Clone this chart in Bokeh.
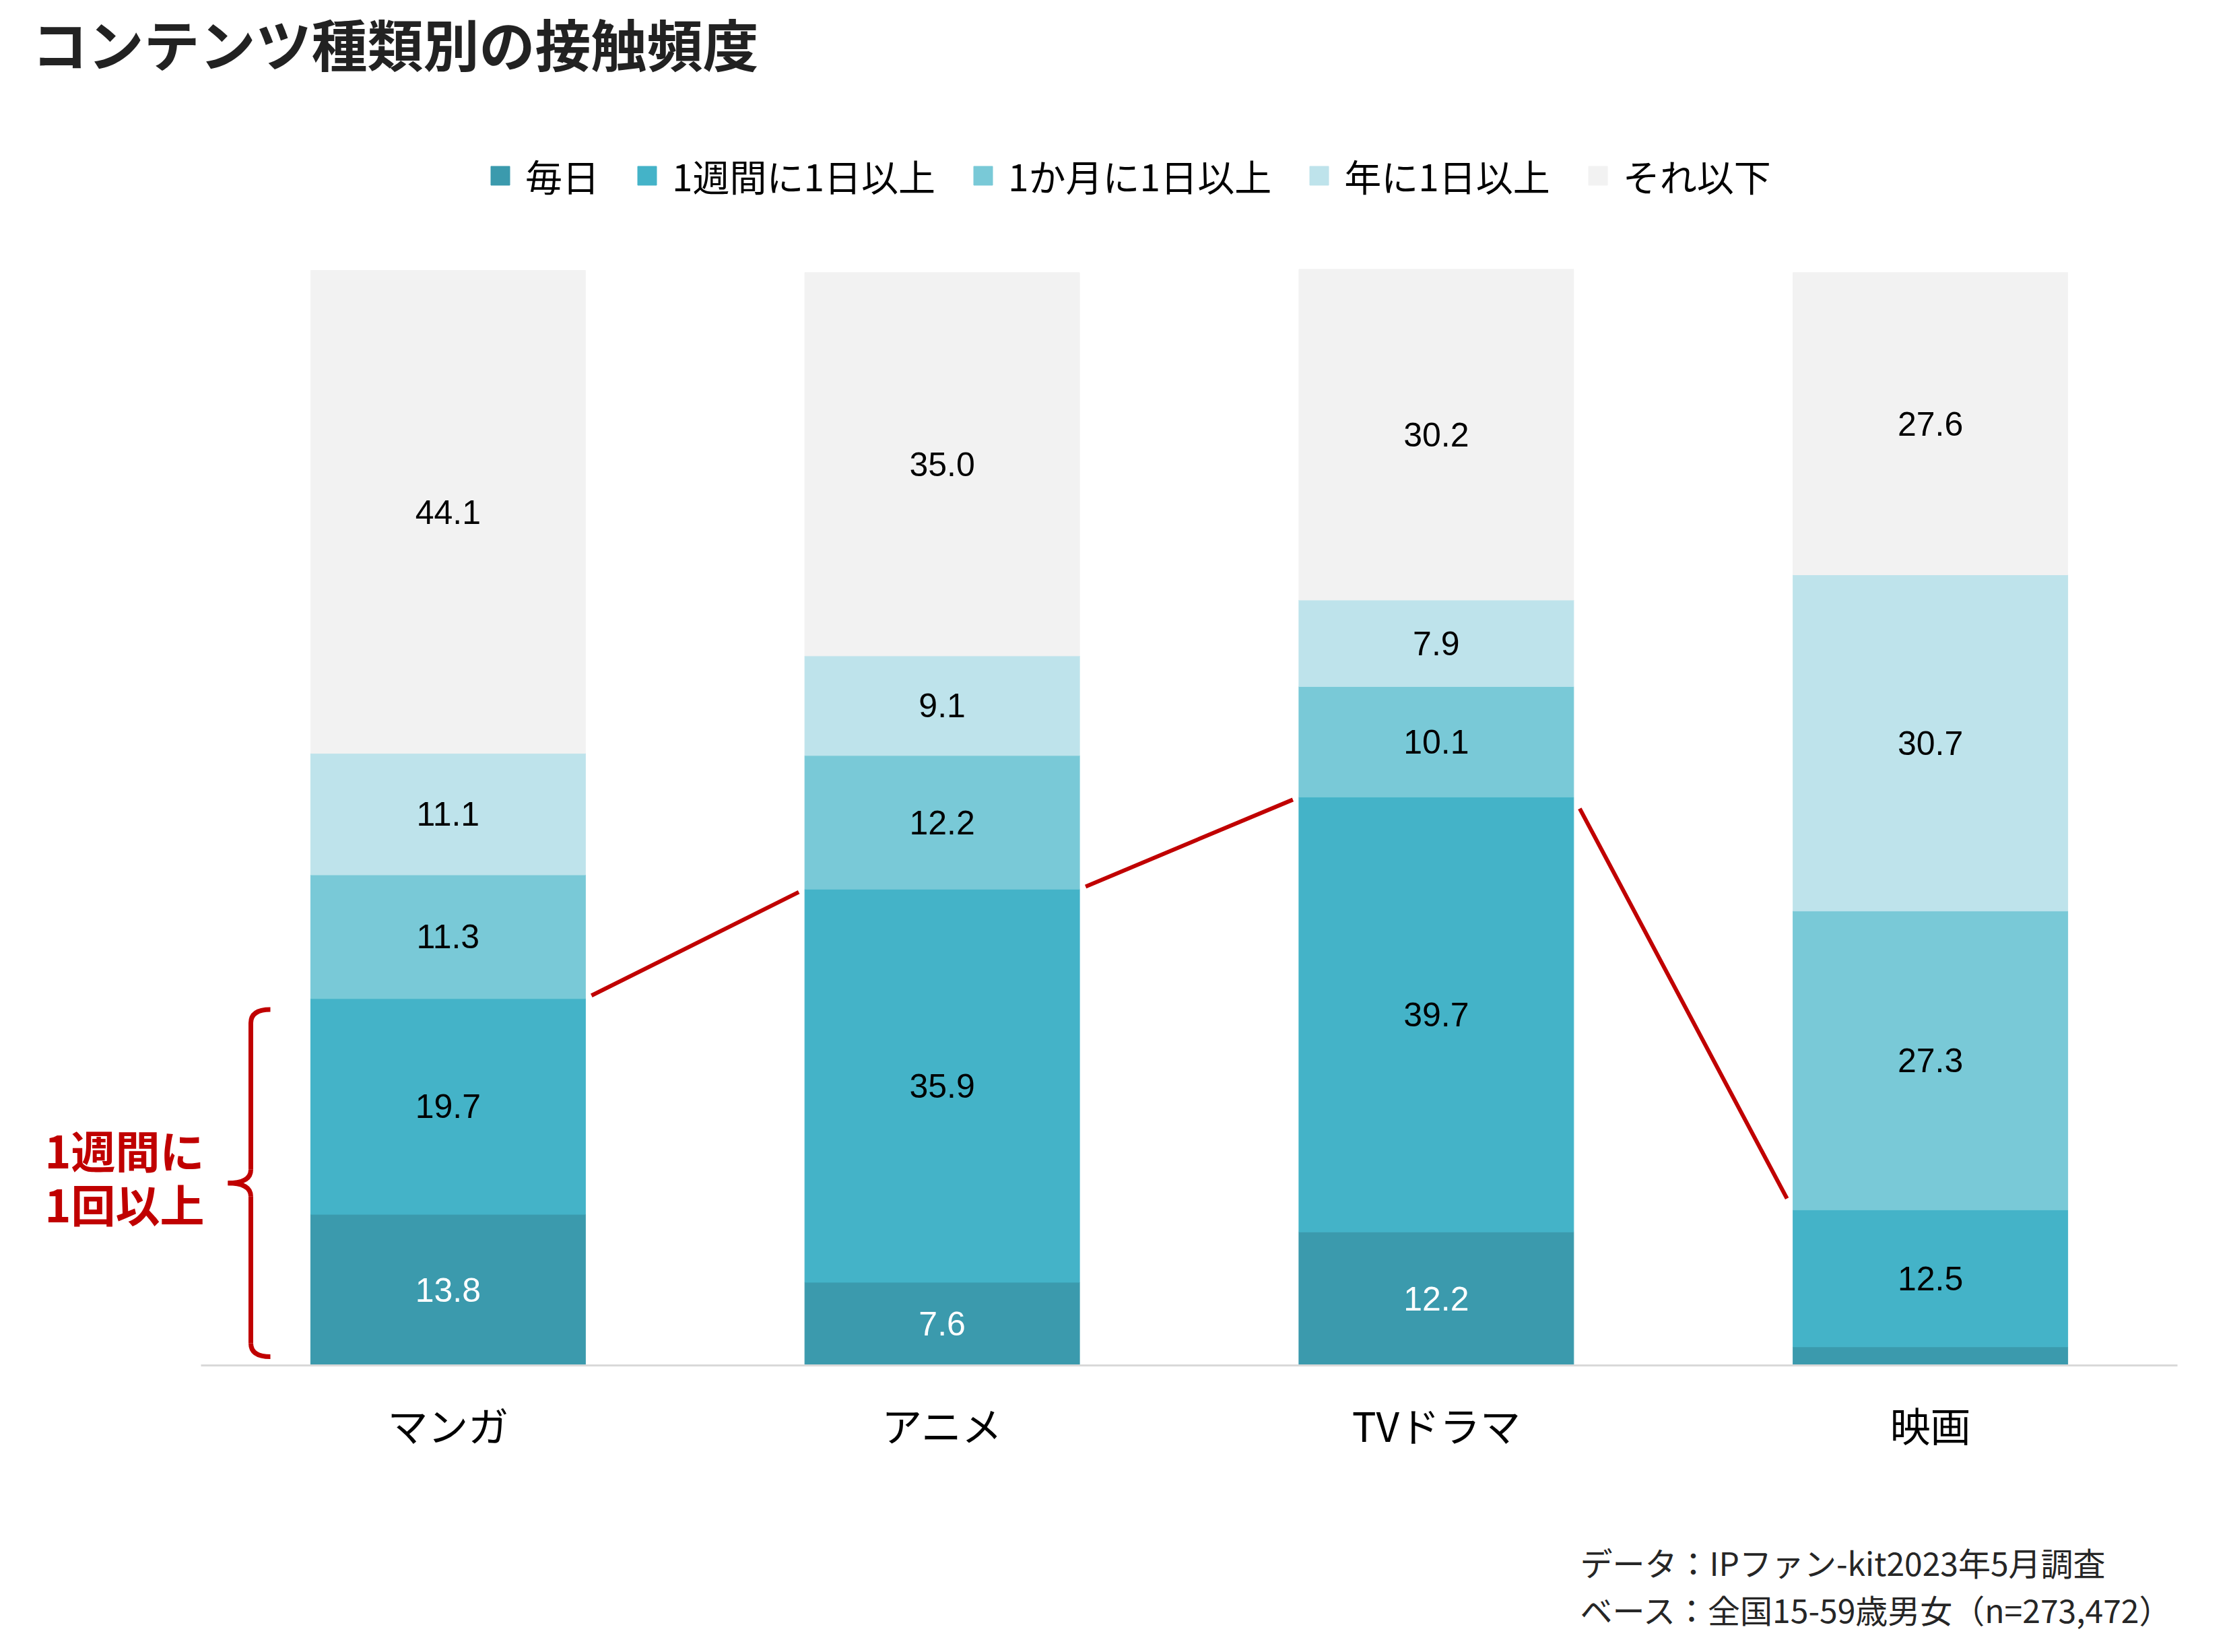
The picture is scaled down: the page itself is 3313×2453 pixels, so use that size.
from bokeh.plotting import figure
from bokeh.layouts import column
from bokeh.models import ColumnDataSource, Range1d, FixedTicker, Legend, LegendItem, Label
from bokeh.core.properties import value
from bokeh.embed import file_html
from bokeh.resources import INLINE

# ---- data -------------------------------------------------------------
categories = ["マンガ", "アニメ", "TVドラマ", "映画"]
series_names = ["毎日", "1週間に1日以上", "1か月に1日以上", "年に1日以上", "それ以下"]
daily = [13.8, 7.6, 12.2, 1.7]
weekly = [19.7, 35.9, 39.7, 12.5]
monthly = [11.3, 12.2, 10.1, 27.3]
yearly = [11.1, 9.1, 7.9, 30.7]
less = [44.1, 35.0, 30.2, 27.6]

title_text = "コンテンツ種類別の接触頻度"
callout_lines = ["1週間に", "1回以上"]
note_lines = ["データ：IPファン-kit2023年5月調査", "ベース：全国15-59歳男女（n=273,472）"]

# ---- styling ----------------------------------------------------------
colors = ["#3B9AAD", "#44B3C8", "#79C9D7", "#BEE3EB", "#F2F2F2"]
label_colors = ["#FFFFFF", "#000000", "#000000", "#000000", "#000000"]
RED = "#C00000"
JP = "Noto Sans CJK JP"
W, H = 3313, 2453
FOOT_H = 193                    # strip under the chart holding the source notes
MAIN_H = H - FOOT_H
AX_L, AX_R = 298, 3233          # where the category axis starts / ends
BASE_Y, TOP_Y = 2027, 401       # pixel rows of 0 % and 100 %
PX_X = (AX_R - AX_L) / 4.0      # pixels per category slot
PX_Y = (BASE_Y - TOP_Y) / 100.0 # pixels per percentage point
BAR_W = 0.556

X0 = -0.5 - AX_L / PX_X
X1 = 3.5 + (W - AX_R) / PX_X
Y1 = BASE_Y / PX_Y


def cx(px):
    """page x pixel -> x data coordinate"""
    return X0 + px / PX_X


def cy(py):
    """page y pixel -> y data coordinate"""
    return (BASE_Y - py) / PX_Y


p = figure(width=W, height=MAIN_H, output_backend="svg", toolbar_location=None,
           x_range=Range1d(X0, X1), y_range=Range1d(0, Y1),
           y_axis_location=None, min_border_left=0, min_border_right=0,
           min_border_top=0, min_border_bottom=MAIN_H - BASE_Y)
p.outline_line_color = None
p.background_fill_color = "white"
p.border_fill_color = "white"
for g in p.xgrid + p.ygrid:
    g.visible = False

# ---- stacked bars -----------------------------------------------------
keys = ["s0", "s1", "s2", "s3", "s4"]
series = [daily, weekly, monthly, yearly, less]
src = ColumnDataSource(dict(x=list(range(len(categories))),
                            **{k: v for k, v in zip(keys, series)}))
bars = p.vbar_stack(keys, x="x", width=BAR_W, color=colors, source=src)

# value labels centred in each segment
lx, ly, lt, lc = [], [], [], []
for i in range(len(categories)):
    base = 0.0
    for s, vals in enumerate(series):
        v = vals[i]
        if v >= 3:
            lx.append(i)
            ly.append(base + v / 2)
            lt.append(f"{v:.1f}")
            lc.append(label_colors[s])
        base += v
p.text(x=lx, y=ly, text=lt, text_color=lc, text_align="center",
       text_baseline="middle", text_font=value("Liberation Sans"),
       text_font_size="50px")

# ---- connectors between "weekly or more" totals -------------------------
wk = [d + w for d, w in zip(daily, weekly)]
gap = 1 - BAR_W
trim = 9 / PX_X
f = trim / gap
x0s, y0s, x1s, y1s = [], [], [], []
for i in range(len(categories) - 1):
    dy = wk[i + 1] - wk[i]
    x0s.append(i + BAR_W / 2 + trim)
    x1s.append(i + 1 - BAR_W / 2 - trim)
    y0s.append(wk[i] + f * dy)
    y1s.append(wk[i + 1] - f * dy)
p.segment(x0=x0s, y0=y0s, x1=x1s, y1=y1s, line_color=RED, line_width=6)

# ---- brace for the first bar ------------------------------------------
bx_end, bx_v, bx_tip = cx(401), cx(372), cx(338)
b_top, b_bot = wk[0] - 1.0, 0.8
b_mid = (b_top + b_bot) / 2
r = 20 / PX_Y
p.quadratic(x0=[bx_end, bx_v, bx_tip, bx_v],
            y0=[b_top, b_mid + r, b_mid, b_bot + r],
            x1=[bx_v, bx_tip, bx_v, bx_end],
            y1=[b_top - r, b_mid, b_mid - r, b_bot],
            cx=[bx_v, bx_v, bx_v, bx_v],
            cy=[b_top, b_mid, b_mid, b_bot],
            line_color=RED, line_width=7)
p.segment(x0=[bx_v, bx_v], y0=[b_top - r, b_mid - r],
          x1=[bx_v, bx_v], y1=[b_mid + r, b_bot + r],
          line_color=RED, line_width=7)

# ---- axis ---------------------------------------------------------------
ax = p.xaxis[0]
ax.bounds = (-0.5, 3.5)
ax.ticker = FixedTicker(ticks=list(range(len(categories))))
ax.major_label_overrides = {i: c for i, c in enumerate(categories)}
ax.major_label_text_font = JP
ax.major_label_text_font_size = "60px"
ax.major_label_text_color = "#000000"
ax.major_label_standoff = 37
ax.major_tick_line_color = None
ax.minor_tick_line_color = None
ax.axis_line_color = "#D9D9D9"
ax.axis_line_width = 3

# ---- legend -------------------------------------------------------------
legend = Legend(items=[LegendItem(label=n, renderers=[r]) for n, r in zip(series_names, bars)],
                orientation="horizontal", location=(725, BASE_Y - 300),
                glyph_width=35, glyph_height=35, label_standoff=20, spacing=53,
                padding=0, margin=0, border_line_color=None, background_fill_alpha=0,
                label_text_font=JP, label_text_font_size="55px", label_text_color="#000000")
p.add_layout(legend, "center")

# ---- texts --------------------------------------------------------------
p.add_layout(Label(x=cx(47), y=cy(62), text=title_text, text_font=JP,
                   text_font_style="bold", text_font_size="83px", text_color="#222222",
                   text_baseline="middle", text_align="left"))
for t, py in zip(callout_lines, [1705, 1785]):
    p.add_layout(Label(x=cx(66), y=cy(py), text=t, text_font=JP, text_font_style="bold",
                       text_font_size="66px", text_color=RED,
                       text_baseline="middle", text_align="left"))

# ---- source notes strip -------------------------------------------------
foot = figure(width=W, height=FOOT_H, output_backend="svg", toolbar_location=None,
              x_range=Range1d(0, W), y_range=Range1d(H, MAIN_H),
              x_axis_location=None, y_axis_location=None,
              min_border_left=0, min_border_right=0, min_border_top=0, min_border_bottom=0)
foot.outline_line_color = None
foot.background_fill_color = "white"
foot.border_fill_color = "white"
for g in foot.xgrid + foot.ygrid:
    g.visible = False
for t, py in zip(note_lines, [2318, 2388]):
    foot.add_layout(Label(x=2346, y=py, text=t, text_font=JP, text_font_size="48px",
                          text_color="#262626", text_baseline="middle", text_align="left"))

open("out.html", "w").write(file_html(column(p, foot, spacing=0), INLINE))
